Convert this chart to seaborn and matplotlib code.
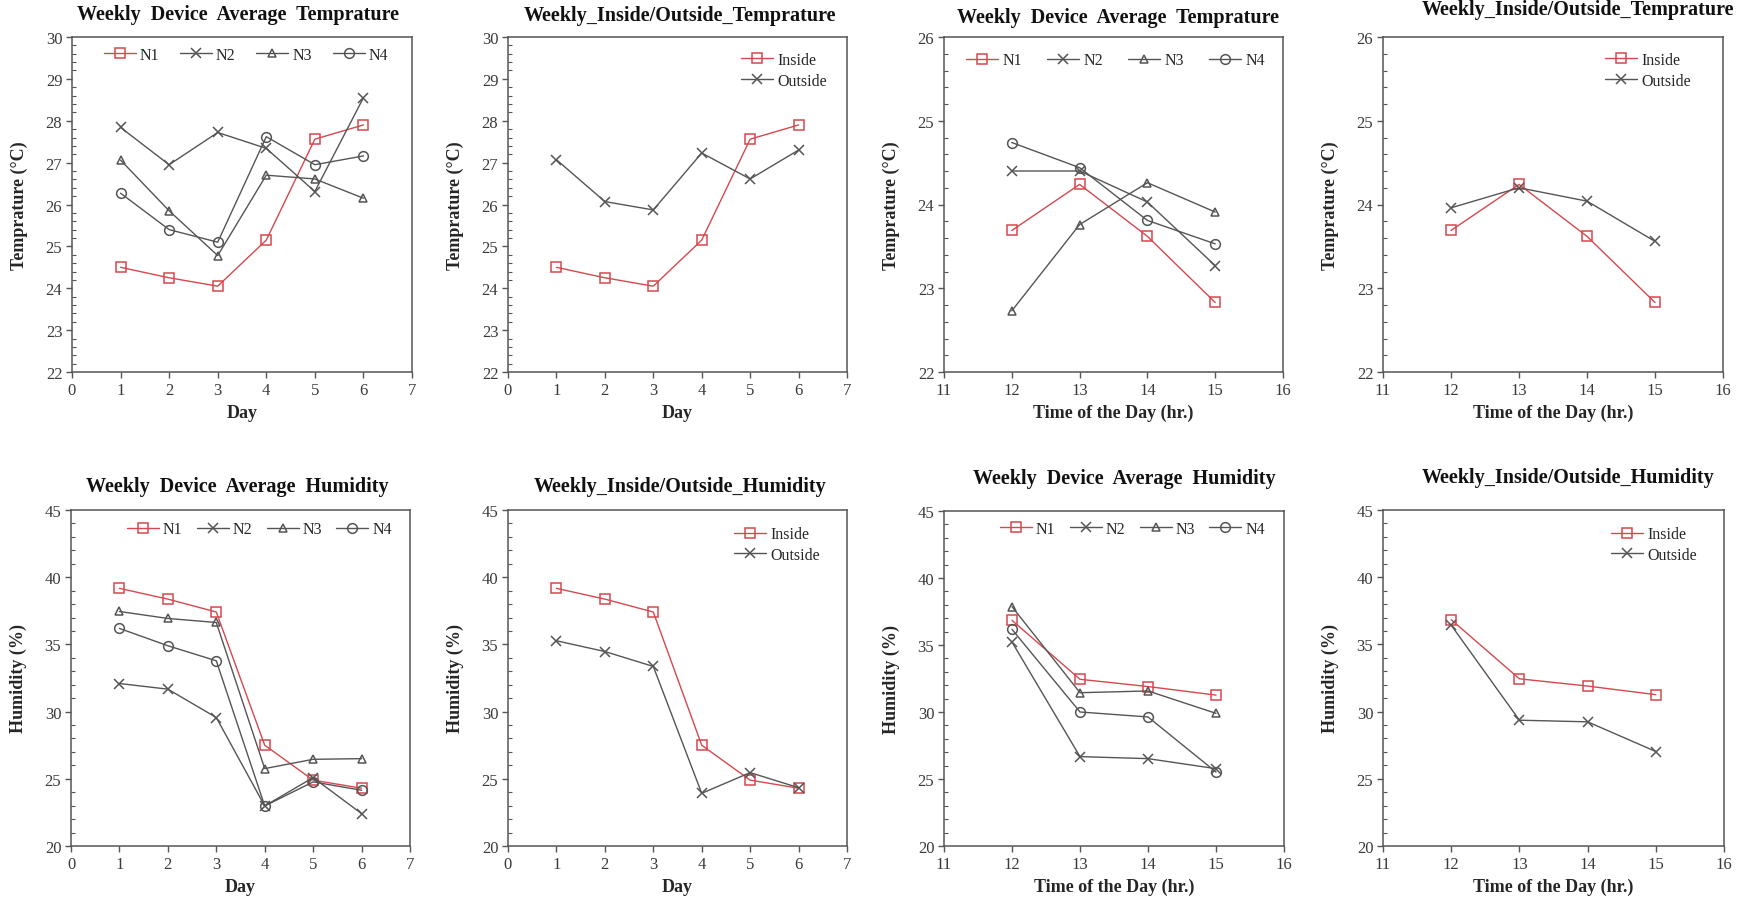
import matplotlib
matplotlib.use("Agg")
import matplotlib.pyplot as plt
from matplotlib.ticker import AutoMinorLocator, MultipleLocator
import seaborn as sns

# ---- data ----
days = [1, 2, 3, 4, 5, 6]
hours = [12, 13, 14, 15]

# daily temperature per device (°C)
temp_day_n1 = [24.50, 24.25, 24.05, 25.15, 27.56, 27.90]
temp_day_n2 = [27.84, 26.95, 27.72, 27.34, 26.31, 28.55]
temp_day_n3 = [27.06, 25.85, 24.78, 26.70, 26.61, 26.15]
temp_day_n4 = [26.27, 25.40, 25.10, 27.62, 26.95, 27.16]
temp_day_inside = [24.50, 24.25, 24.05, 25.15, 27.56, 27.90]
temp_day_outside = [27.07, 26.07, 25.87, 27.23, 26.61, 27.30]

# hourly temperature per device (°C)
temp_hr_n1 = [23.69, 24.24, 23.62, 22.83]
temp_hr_n2 = [24.40, 24.40, 24.03, 23.27]
temp_hr_n3 = [22.73, 23.76, 24.26, 23.91]
temp_hr_n4 = [24.74, 24.44, 23.81, 23.53]
temp_hr_inside = [23.69, 24.24, 23.62, 22.83]
temp_hr_outside = [23.96, 24.20, 24.04, 23.56]

# daily humidity per device (%)
hum_day_n1 = [39.17, 38.37, 37.41, 27.50, 24.90, 24.30]
hum_day_n2 = [32.09, 31.67, 29.56, 22.98, 25.09, 22.41]
hum_day_n3 = [37.45, 36.93, 36.63, 25.76, 26.45, 26.50]
hum_day_n4 = [36.19, 34.90, 33.78, 22.98, 24.77, 24.15]
hum_day_inside = [39.17, 38.37, 37.41, 27.50, 24.90, 24.30]
hum_day_outside = [35.27, 34.47, 33.36, 23.92, 25.46, 24.34]

# hourly humidity per device (%)
hum_hr_n1 = [36.84, 32.44, 31.90, 31.26]
hum_hr_n2 = [35.22, 26.67, 26.52, 25.77]
hum_hr_n3 = [37.86, 31.44, 31.57, 29.90]
hum_hr_n4 = [36.17, 30.00, 29.63, 25.52]
hum_hr_inside = [36.84, 32.44, 31.90, 31.26]
hum_hr_outside = [36.43, 29.36, 29.24, 27.03]

device_names = ["N1", "N2", "N3", "N4"]
io_names = ["Inside", "Outside"]

# ---- styling ----
sns.set_theme(style="white")
plt.rcParams["font.family"] = ["Liberation Serif", "DejaVu Serif"]
plt.rcParams["axes.unicode_minus"] = False

RED = "#d6484e"
GRAY = "#555555"
series_style = {
    "N1": (RED, "s", 7.0),
    "N2": (GRAY, "x", 6.5),
    "N3": (GRAY, "^", 6.0),
    "N4": (GRAY, "o", 7.0),
    "Inside": (RED, "s", 7.0),
    "Outside": (GRAY, "x", 6.5),
}

W, H = 1754, 903
fig = plt.figure(figsize=(W / 100, H / 100), dpi=100)


def add_panel(px_left, px_top, px_right, px_bottom):
    return fig.add_axes([px_left / W, 1 - px_bottom / H,
                         (px_right - px_left) / W, (px_bottom - px_top) / H])


def draw(ax, x, series, names, xlim, ylim, ystep, yminor, xlabel, ylabel,
         legend_kind, leg_anchor, colspace):
    for name, y in zip(names, series):
        color, marker, ms = series_style[name]
        sns.lineplot(x=x, y=y, ax=ax, color=color, marker=marker,
                     markersize=ms, markerfacecolor="none",
                     markeredgecolor=color, markeredgewidth=1.1,
                     linewidth=1.0, label=name, legend=False)
    ax.set_xlim(*xlim)
    ax.set_ylim(*ylim)
    ax.xaxis.set_major_locator(MultipleLocator(1))
    ax.yaxis.set_major_locator(MultipleLocator(ystep))
    ax.yaxis.set_minor_locator(AutoMinorLocator(yminor))
    for sp in ax.spines.values():
        sp.set_visible(True)
        sp.set_color("#555555")
        sp.set_linewidth(1.1)
    ax.tick_params(axis="both", which="major", direction="out", length=4,
                   width=1.0, color="#555555", labelsize=12,
                   labelcolor="#3a3a3a", bottom=True, left=True, pad=3)
    ax.tick_params(axis="y", which="minor", direction="in", length=3,
                   width=0.8, color="#555555", left=True)
    ax.set_xlabel(xlabel, fontsize=13, fontweight="bold", va="center")
    ax.set_ylabel(ylabel, fontsize=13, fontweight="bold", va="center")
    ax.xaxis.set_label_coords(0.5, -0.12)
    ax.yaxis.set_label_coords(-0.155, 0.5)
    handles, labels = ax.get_legend_handles_labels()
    if legend_kind == "devices":
        ax.legend(handles, labels, loc="center right", ncol=4, frameon=False,
                  fontsize=11.5, bbox_to_anchor=leg_anchor, handlelength=2.0,
                  columnspacing=colspace, handletextpad=0.25, borderpad=0,
                  borderaxespad=0)
    else:
        ax.legend(handles, labels, loc="upper right", frameon=False,
                  fontsize=11.5, bbox_to_anchor=leg_anchor, handlelength=2.0,
                  handletextpad=0.25, labelspacing=0.3, borderpad=0,
                  borderaxespad=0)


TEMP_LABEL = "Temprature (°C)"
HUM_LABEL = "Humidity (%)"
HR_LABEL = "Time of the Day (hr.)"

panels = [
    # rect (px), x, series, names, xlim, ylim, y minor divisions, labels,
    # legend kind, legend anchor, column spacing, title, title centre (px)
    ((72, 38, 412, 373), days,
     [temp_day_n1, temp_day_n2, temp_day_n3, temp_day_n4], device_names,
     (0, 7), (22, 30), 5, "Day", TEMP_LABEL, "devices", (0.93, 0.946), 1.3,
     "Weekly  Device  Average  Temprature", (238, 15)),
    ((508, 38, 847, 373), days,
     [temp_day_inside, temp_day_outside], io_names,
     (0, 7), (22, 30), 5, "Day", TEMP_LABEL, "io", (0.94, 0.955), 0,
     "Weekly_Inside/Outside_Temprature", (680, 16)),
    ((944, 38, 1283, 373), hours,
     [temp_hr_n1, temp_hr_n2, temp_hr_n3, temp_hr_n4], device_names,
     (11, 16), (22, 26), 5, HR_LABEL, TEMP_LABEL, "devices", (0.947, 0.931), 1.6,
     "Weekly  Device  Average  Temprature", (1118, 18)),
    ((1383, 38, 1723, 373), hours,
     [temp_hr_inside, temp_hr_outside], io_names,
     (11, 16), (22, 26), 5, HR_LABEL, TEMP_LABEL, "io", (0.905, 0.955), 0,
     "Weekly_Inside/Outside_Temprature", (1578, 10)),
    ((71, 511, 410, 847), days,
     [hum_day_n1, hum_day_n2, hum_day_n3, hum_day_n4], device_names,
     (0, 7), (20, 45), 5, "Day", HUM_LABEL, "devices", (0.947, 0.943), 0.9,
     "Weekly  Device  Average  Humidity", (237, 487)),
    ((508, 511, 847, 847), days,
     [hum_day_inside, hum_day_outside], io_names,
     (0, 7), (20, 45), 5, "Day", HUM_LABEL, "io", (0.92, 0.952), 0,
     "Weekly_Inside/Outside_Humidity", (680, 487)),
    ((944, 512, 1284, 847), hours,
     [hum_hr_n1, hum_hr_n2, hum_hr_n3, hum_hr_n4], device_names,
     (11, 16), (20, 45), 5, HR_LABEL, HUM_LABEL, "devices", (0.944, 0.946), 0.9,
     "Weekly  Device  Average  Humidity", (1124, 479)),
    ((1383, 511, 1724, 847), hours,
     [hum_hr_inside, hum_hr_outside], io_names,
     (11, 16), (20, 45), 5, HR_LABEL, HUM_LABEL, "io", (0.92, 0.952), 0,
     "Weekly_Inside/Outside_Humidity", (1568, 478)),
]

for (rect, x, series, names, xlim, ylim, yminor, xlabel, ylabel,
     legend_kind, leg_anchor, colspace, title, tpos) in panels:
    ax = add_panel(*rect)
    ystep = 1 if ylim[1] - ylim[0] <= 8 else 5
    draw(ax, x, series, names, xlim, ylim, ystep, yminor, xlabel, ylabel,
         legend_kind, leg_anchor, colspace)
    fig.text(tpos[0] / W, 1 - tpos[1] / H, title, ha="center", va="center",
             fontsize=14.5, fontweight="bold", color="#111111")

fig.savefig("out.png", dpi=100, facecolor="white")
